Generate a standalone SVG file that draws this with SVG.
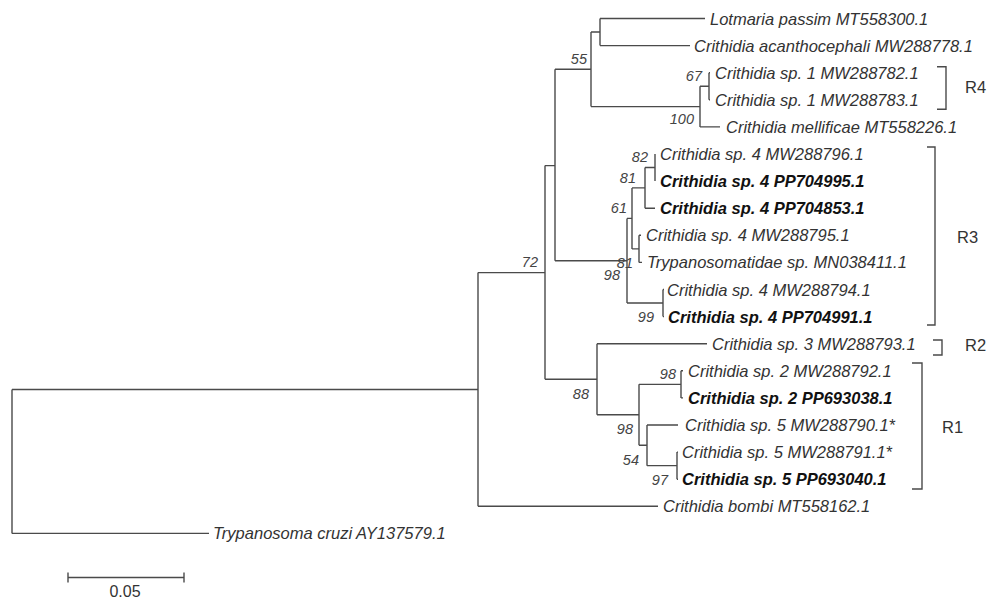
<svg xmlns="http://www.w3.org/2000/svg" width="987" height="600" viewBox="0 0 987 600">
<style>
.br{fill:none;stroke:#4a4a4a;stroke-width:1.4}
.lf{font-family:"Liberation Sans",Arial,sans-serif;font-size:16.5px;font-style:italic;fill:#333}
.bd{font-weight:bold;fill:#111}
.bs{font-family:"Liberation Sans",Arial,sans-serif;font-size:14.5px;font-style:italic;fill:#444;text-anchor:end}
.rg{font-family:"Liberation Sans",Arial,sans-serif;font-size:16.5px;fill:#333}
.bk{fill:none;stroke:#4a4a4a;stroke-width:1.4}
</style>
<rect width="987" height="600" fill="#fff"/>
<g id="connectors">
<path class="br" d="M12 389.5V533.4M478 272.6V506.3M545 165.6V379.3M555 69.3V260.7M591 32V106.6M600 18.5V45.6M700 86.25V126.9M709 72.7V99.8M627 218.4V303M632 187.9V248.9M645 167.5V208.2M655 154V181.1M639 235.3V262.4M663 289.5V316.6M597 343.7V414.8M639 384.35V445.3M681 370.8V397.9M647 425V465.65M677 452.1V479.2"/>
<path class="br" d="M12 389.5H478M12 533.4H209M478 272.6H545M478 506.3H658M545 165.6H555M545 379.3H597M555 69.3H591M555 260.7H627M591 32H600M591 106.6H700M600 18.5H705M600 45.6H690M700 86.25H709M700 126.9H720M709 72.7H710M709 99.8H710M627 218.4H632M627 303H663M632 187.9H645M632 248.9H639M645 167.5H655M645 208.2H655M639 235.3H641M639 262.4H642M663 289.5H664M663 316.6H664M597 343.7H707M597 414.8H639M639 384.35H681M639 445.3H647M681 370.8H683M681 397.9H683M647 425H678M647 465.65H677M677 452.1H678M677 479.2H678"/>
</g>
<g id="leaf-lotmaria"><text class="lf" x="710" y="24.5">Lotmaria passim MT558300.1</text></g>
<g id="leaf-acanthocephali"><text class="lf" x="694" y="51.6">Crithidia acanthocephali MW288778.1</text></g>
<g id="leaf-sp1-782"><text class="lf" x="715" y="78.7">Crithidia sp. 1 MW288782.1</text></g>
<g id="leaf-sp1-783"><text class="lf" x="715" y="105.8">Crithidia sp. 1 MW288783.1</text></g>
<g id="leaf-mellificae"><text class="lf" x="726" y="132.9">Crithidia mellificae MT558226.1</text></g>
<g id="leaf-sp4-796"><text class="lf" x="660" y="160">Crithidia sp. 4 MW288796.1</text></g>
<g id="leaf-sp4-995"><text class="lf bd" x="660" y="187.1">Crithidia sp. 4 PP704995.1</text></g>
<g id="leaf-sp4-853"><text class="lf bd" x="660" y="214.2">Crithidia sp. 4 PP704853.1</text></g>
<g id="leaf-sp4-795"><text class="lf" x="646" y="241.3">Crithidia sp. 4 MW288795.1</text></g>
<g id="leaf-trypanosomatidae"><text class="lf" x="647" y="268.4">Trypanosomatidae sp. MN038411.1</text></g>
<g id="leaf-sp4-794"><text class="lf" x="667" y="295.5">Crithidia sp. 4 MW288794.1</text></g>
<g id="leaf-sp4-991"><text class="lf bd" x="668" y="322.6">Crithidia sp. 4 PP704991.1</text></g>
<g id="leaf-sp3-793"><text class="lf" x="712" y="349.7">Crithidia sp. 3 MW288793.1</text></g>
<g id="leaf-sp2-792"><text class="lf" x="688" y="376.8">Crithidia sp. 2 MW288792.1</text></g>
<g id="leaf-sp2-038"><text class="lf bd" x="688" y="403.9">Crithidia sp. 2 PP693038.1</text></g>
<g id="leaf-sp5-790"><text class="lf" x="685" y="431">Crithidia sp. 5 MW288790.1*</text></g>
<g id="leaf-sp5-791"><text class="lf" x="682" y="458.1">Crithidia sp. 5 MW288791.1*</text></g>
<g id="leaf-sp5-040"><text class="lf bd" x="682" y="485.2">Crithidia sp. 5 PP693040.1</text></g>
<g id="leaf-bombi"><text class="lf" x="663" y="512.3">Crithidia bombi MT558162.1</text></g>
<g id="leaf-cruzi"><text class="lf" x="213" y="539.4">Trypanosoma cruzi AY137579.1</text></g>
<g id="support">
<text class="bs" x="587" y="64">55</text>
<text class="bs" x="702" y="81">67</text>
<text class="bs" x="694" y="124">100</text>
<text class="bs" x="648" y="162">82</text>
<text class="bs" x="636" y="183">81</text>
<text class="bs" x="627" y="213">61</text>
<text class="bs" x="633" y="268">81</text>
<text class="bs" x="620" y="280">98</text>
<text class="bs" x="654" y="322">99</text>
<text class="bs" x="538" y="267">72</text>
<text class="bs" x="589" y="399">88</text>
<text class="bs" x="676" y="379">98</text>
<text class="bs" x="633" y="434">98</text>
<text class="bs" x="639" y="465">54</text>
<text class="bs" x="668" y="485">97</text>
</g>
<g id="clade-R4"><path class="bk" d="M937 66.7H946V109.3H937"/><text class="rg" x="965" y="93">R4</text></g>
<g id="clade-R3"><path class="bk" d="M927 147H935V325H927"/><text class="rg" x="957" y="243">R3</text></g>
<g id="clade-R2"><path class="bk" d="M933 340H942V355H933"/><text class="rg" x="965" y="351">R2</text></g>
<g id="clade-R1"><path class="bk" d="M912 363H922V489H912"/><text class="rg" x="942" y="433">R1</text></g>
<g id="scale-bar"><path class="br" d="M68 577.5H184M68 572.5V582.5M184 572.5V582.5"/><text x="125" y="597" text-anchor="middle" font-family="'Liberation Sans',Arial,sans-serif" font-size="16" fill="#333">0.05</text></g>
</svg>
